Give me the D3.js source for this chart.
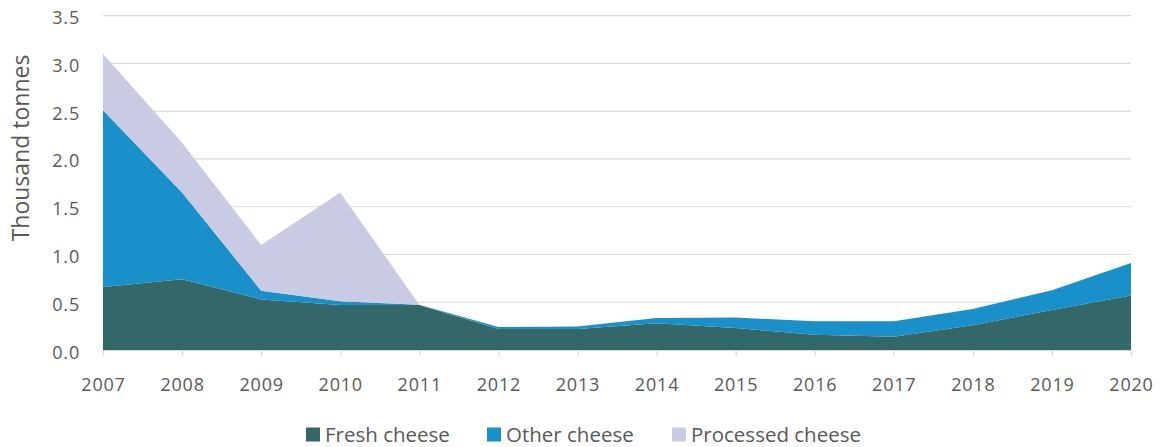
<!DOCTYPE html>
<html><head><meta charset="utf-8">
<script src="https://cdn.jsdelivr.net/npm/d3@7"></script>
<style>body{margin:0;background:#fff}svg,svg text{font-family:"Open Sans",sans-serif}</style>
</head><body><svg id="c" width="1161" height="447"></svg>
<script>
const years = [2007,2008,2009,2010,2011,2012,2013,2014,2015,2016,2017,2018,2019,2020];
const fresh = [0.66,0.74,0.53,0.47,0.47,0.22,0.22,0.28,0.23,0.16,0.14,0.26,0.42,0.57];
const other = [1.85,0.91,0.09,0.04,0.005,0.02,0.025,0.055,0.11,0.14,0.16,0.17,0.205,0.34];
const processed = [0.59,0.52,0.48,1.14,0,0,0,0,0,0,0,0,0,0];
const seriesNames = ["Fresh cheese","Other cheese","Processed cheese"];
const colors = ["#346767","#1990ca","#c8cbe3"];
const yTicks = [0,0.5,1.0,1.5,2.0,2.5,3.0,3.5];

const svg = d3.select("#c");
const x = d3.scaleLinear().domain([2007,2020]).range([103,1131]);
const y = d3.scaleLinear().domain([0,3.5]).range([350,15.7]);

const rows = years.map((yr,i)=>({year:yr,"Fresh cheese":fresh[i],"Other cheese":other[i],"Processed cheese":processed[i]}));
const stack = d3.stack().keys(seriesNames)(rows);

svg.append("g").selectAll("line").data(yTicks.filter(d=>d>0)).join("line")
  .attr("x1",103).attr("x2",1131).attr("y1",d=>y(d)).attr("y2",d=>y(d))
  .attr("stroke","#d9d9d9").attr("stroke-width",1.2);

const area = d3.area().x(d=>x(d.data.year)).y0(d=>y(d[0])).y1(d=>y(d[1]));
svg.append("g").selectAll("path").data(stack).join("path")
  .attr("d",area).attr("fill",(d,i)=>colors[i]);

const xa = svg.append("g").attr("transform","translate(0,350)")
  .call(d3.axisBottom(x).tickValues(years).tickFormat(d3.format("d")).tickSize(6));
xa.attr("font-family",null);
xa.select(".domain").attr("stroke","#d9d9d9").attr("stroke-width",1.2);
xa.selectAll(".tick line").attr("stroke","#d9d9d9").attr("stroke-width",1.2);
xa.selectAll("text").attr("y",41).attr("dy",null).attr("fill","#595959")
  .style("font-family","'Open Sans',sans-serif").style("font-size","18px").style("letter-spacing","0.8px");

const ya = svg.append("g").attr("transform","translate(80,0)")
  .call(d3.axisLeft(y).tickValues(yTicks).tickFormat(d3.format(".1f")).tickSize(0).tickPadding(0));
ya.attr("font-family",null);
ya.select(".domain").remove();
ya.selectAll("text").attr("dy",null).attr("y",8).attr("fill","#595959")
  .style("font-family","'Open Sans',sans-serif").style("font-size","18px").style("letter-spacing","0.8px");

svg.append("text").attr("transform","translate(29,148) rotate(-90)")
  .attr("text-anchor","middle").attr("fill","#595959").style("font-size","23px").text("Thousand tonnes");

const legX = [306,487,672];
const lg = svg.append("g").selectAll("g").data(seriesNames).join("g")
  .attr("transform",(d,i)=>`translate(${legX[i]},427.5)`);
lg.append("rect").attr("width",14).attr("height",14).attr("fill",(d,i)=>colors[i]);
lg.append("text").attr("x",19).attr("y",14).attr("fill","#595959").style("font-size","20.5px").text(d=>d);
</script></body></html>
